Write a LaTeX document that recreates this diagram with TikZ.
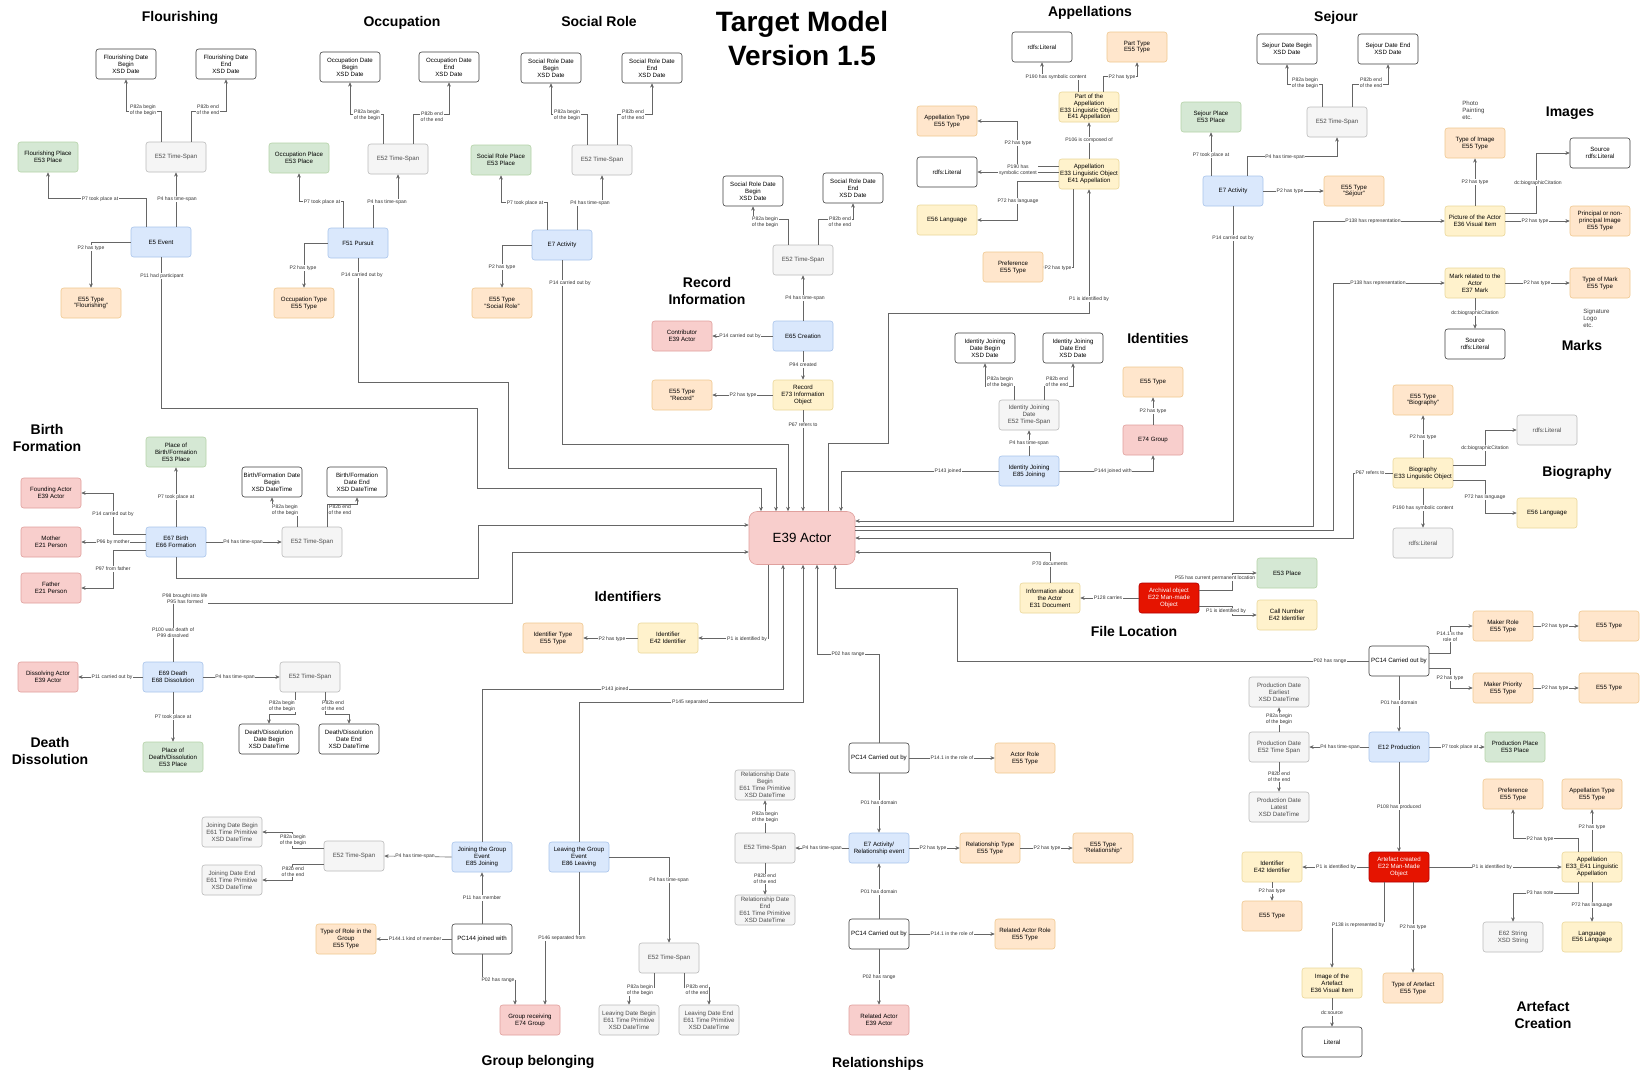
\documentclass[tikz,border=0pt]{standalone}
\usepackage{fontspec}
\setmainfont{Liberation Sans}
\usetikzlibrary{arrows.meta}
\definecolor{bluF}{HTML}{DAE8FC}\definecolor{bluD}{HTML}{A9C4EB}
\definecolor{grnF}{HTML}{D5E8D4}\definecolor{grnD}{HTML}{B5D3A8}
\definecolor{orgF}{HTML}{FFE6CC}\definecolor{orgD}{HTML}{F0C890}
\definecolor{yelF}{HTML}{FFF2CC}\definecolor{yelD}{HTML}{EBD89A}
\definecolor{pnkF}{HTML}{F8CECC}\definecolor{pnkD}{HTML}{E0A09D}
\definecolor{gryF}{HTML}{F5F5F5}\definecolor{gryD}{HTML}{BBBBBB}
\definecolor{redF}{HTML}{E51400}\definecolor{redD}{HTML}{B20000}
\newcommand{\mylab}[3]{\node[lab] (#1) at (#2) {#3};}
\begin{document}
\begin{tikzpicture}[x=0.75pt,y=-0.75pt,
 box/.style={rounded corners=2pt, minimum width=45pt, minimum height=22.5pt, inner sep=0.8pt, align=center, font=\fontsize{4.6}{5.2}\selectfont, line width=0.45pt},
 wht/.style={box, draw=black!75, fill=white},
 gry/.style={box, draw=gryD, fill=gryF, text=black!70},
 blu/.style={box, draw=bluD, fill=bluF},
 grn/.style={box, draw=grnD, fill=grnF},
 org/.style={box, draw=orgD, fill=orgF},
 yel/.style={box, draw=yelD, fill=yelF},
 pnk/.style={box, draw=pnkD, fill=pnkF},
 rbox/.style={box, draw=redD, fill=redF, text=white},
 note/.style={font=\fontsize{4.6}{5.2}\selectfont, align=left, inner sep=0pt, text=black!75},
 lab/.style={font=\fontsize{3.8}{4.3}\selectfont, fill=white, inner sep=0.5pt, align=center, text=black!80},
 ttl/.style={font=\fontsize{10.5}{12.5}\selectfont\bfseries, align=center},
 ed/.style={draw=black!60, line width=0.5pt, -{Stealth[length=3.2pt,width=2.8pt]}}
]
\useasboundingbox (0,0) rectangle (1640,1072);
\fill[white] (0,0) rectangle (1640,1072);

% ---------- titles
\node[ttl] (t1) at (180,18) {Flourishing};
\node[ttl] (t2) at (402,23) {Occupation};
\node[ttl] (t3) at (599,21) {Social Role};
\node[ttl, font=\fontsize{21}{25.5}\selectfont\bfseries] (t4) at (802,38) {Target Model\\Version 1.5};
\node[ttl] (t5) at (1090,13) {Appellations};
\node[ttl] (t6) at (1336,18) {Sejour};
\node[ttl] (t7) at (1570,113) {Images};
\node[ttl] (t8) at (1582,345) {Marks};
\node[ttl] (t9) at (707,291) {Record\\Information};
\node[ttl] (t10) at (1158,338) {Identities};
\node[ttl] (t11) at (1577,473) {Biography};
\node[ttl] (t12) at (47,438) {Birth\\Formation};
\node[ttl] (t13) at (628,596) {Identifiers};
\node[ttl] (t14) at (1134,631) {File Location};
\node[ttl] (t15) at (50,751) {Death\\Dissolution};
\node[ttl] (t16) at (538,1062) {Group belonging};
\node[ttl] (t17) at (878,1064) {Relationships};
\node[ttl] (t18) at (1543,1015) {Artefact\\Creation};

% ---------- Flourishing
\node[wht] (fdb) at (126,64) {Flourishing Date\\Begin\\XSD Date};
\node[wht] (fde) at (226,64) {Flourishing Date\\End\\XSD Date};
\node[gry] (fts) at (176,157) {E52 Time-Span};
\node[grn] (fpl) at (48,157) {Flourishing Place\\E53 Place};
\node[blu] (fev) at (161,242) {E5 Event};
\node[org] (fty) at (91,303) {E55 Type\\"Flourishing"};
% ---------- Occupation
\node[wht] (odb) at (350,67) {Occupation Date\\Begin\\XSD Date};
\node[wht] (ode) at (449,67) {Occupation Date\\End\\XSD Date};
\node[gry] (ots) at (398,159) {E52 Time-Span};
\node[grn] (opl) at (299,158) {Occupation Place\\E53 Place};
\node[blu] (opu) at (358,243) {F51 Pursuit};
\node[org] (oty) at (304,303) {Occupation Type\\E55 Type};
% ---------- Social role
\node[wht] (sdb) at (551,68) {Social Role Date\\Begin\\XSD Date};
\node[wht] (sde) at (652,68) {Social Role Date\\End\\XSD Date};
\node[gry] (sts) at (602,160) {E52 Time-Span};
\node[grn] (spl) at (501,160) {Social Role Place\\E53 Place};
\node[blu] (sac) at (562,245) {E7 Activity};
\node[org] (sty) at (502,303) {E55 Type\\"Social Role"};
% ---------- Record
\node[wht] (rdb) at (753,191) {Social Role Date\\Begin\\XSD Date};
\node[wht] (rde) at (853,188) {Social Role Date\\End\\XSD Date};
\node[gry] (rts) at (803,260) {E52 Time-Span};
\node[blu] (rcr) at (803,336) {E65 Creation};
\node[pnk] (rco) at (682,336) {Contributor\\E39 Actor};
\node[yel] (rrec) at (803,395) {Record\\E73 Information\\Object};
\node[org] (rty) at (682,395) {E55 Type\\"Record"};
% ---------- Actor
\node[pnk, minimum width=79.5pt, minimum height=39.75pt, rounded corners=6pt, font=\fontsize{10}{12}\selectfont] (act) at (802,538) {E39 Actor};
% ---------- Appellations
\node[wht] (alit) at (1042,47) {rdfs:Literal};
\node[org] (apt) at (1137,47) {Part Type\\E55 Type};
\node[yel] (apart) at (1089,107) {Part of the\\Appellation\\E33 Linguistic Object\\E41 Appellation};
\node[org] (aty) at (947,121) {Appellation Type\\E55 Type};
\node[yel] (aapp) at (1089,174) {Appellation\\E33 Linguistic Object\\E41 Appellation};
\node[wht] (alit2) at (947,172) {rdfs:Literal};
\node[yel] (alang) at (947,220) {E56 Language};
\node[org] (apref) at (1013,267) {Preference\\E55 Type};
% ---------- Identities
\node[wht] (idb) at (985,348) {Identity Joining\\Date Begin\\XSD Date};
\node[wht] (ide) at (1073,348) {Identity Joining\\Date End\\XSD Date};
\node[gry] (its) at (1029,415) {Identity Joining\\Date\\E52 Time-Span};
\node[blu] (ijo) at (1029,471) {Identity Joining\\E85 Joining};
\node[org] (ity) at (1153,382) {E55 Type};
\node[pnk] (igr) at (1153,440) {E74 Group};
% ---------- Sejour
\node[wht] (jdb) at (1287,49) {Sejour Date Begin\\XSD Date};
\node[wht] (jde) at (1388,49) {Sejour Date End\\XSD Date};
\node[gry] (jts) at (1337,122) {E52 Time-Span};
\node[grn] (jpl) at (1211,117) {Sejour Place\\E53 Place};
\node[blu] (jac) at (1233,191) {E7 Activity};
\node[org] (jty) at (1354,191) {E55 Type\\"Séjour"};
% ---------- Images
\node[note, anchor=west] (iph) at (1462,110) {Photo\\Painting\\etc.};
\node[org] (ity2) at (1475,143) {Type of Image\\E55 Type};
\node[yel] (ipic) at (1475,221) {Picture of the Actor\\E36 Visual Item};
\node[wht] (isrc) at (1600,153) {Source\\rdfs:Literal};
\node[org] (ipri) at (1600,221) {Principal or non-\\principal Image\\E55 Type};
% ---------- Marks
\node[yel] (mmk) at (1475,283) {Mark related to the\\Actor\\E37 Mark};
\node[org] (mty) at (1600,283) {Type of Mark\\E55 Type};
\node[note, anchor=west] (msig) at (1583,318) {Signature\\Logo\\etc.};
\node[wht] (msrc) at (1475,344) {Source\\rdfs:Literal};
% ---------- Biography
\node[org] (bty) at (1423,400) {E55 Type\\"Biography"};
\node[yel] (bbio) at (1423,473) {Biography\\E33 Linguistic Object};
\node[gry] (blit) at (1547,430) {rdfs:Literal};
\node[yel] (blang) at (1547,513) {E56 Language};
\node[gry] (blit2) at (1423,543) {rdfs:Literal};
% ---------- Birth
\node[grn] (npl) at (176,452) {Place of\\Birth/Formation\\E53 Place};
\node[pnk] (nfa) at (51,493) {Founding Actor\\E39 Actor};
\node[pnk] (nmo) at (51,542) {Mother\\E21 Person};
\node[pnk] (nfat) at (51,588) {Father\\E21 Person};
\node[blu] (nbi) at (176,542) {E67 Birth\\E66 Formation};
\node[gry] (nts) at (312,542) {E52 Time-Span};
\node[wht] (ndb) at (272,482) {Birth/Formation Date\\Begin\\XSD DateTime};
\node[wht] (nde) at (357,482) {Birth/Formation\\Date End\\XSD DateTime};
% ---------- Death
\node[pnk] (dda) at (48,677) {Dissolving Actor\\E39 Actor};
\node[blu] (dde) at (173,677) {E69 Death\\E68 Dissolution};
\node[gry] (dts) at (310,677) {E52 Time-Span};
\node[grn] (dpl) at (173,757) {Place of\\Death/Dissolution\\E53 Place};
\node[wht] (ddb) at (269,739) {Death/Dissolution\\Date Begin\\XSD DateTime};
\node[wht] (ddn) at (349,739) {Death/Dissolution\\Date End\\XSD DateTime};
% ---------- Identifiers
\node[yel] (idf) at (668,638) {Identifier\\E42 Identifier};
\node[org] (idt) at (553,638) {Identifier Type\\E55 Type};
% ---------- Group belonging
\node[gry] (gjb) at (232,832) {Joining Date Begin\\E61 Time Primitive\\XSD DateTime};
\node[gry] (gje) at (232,880) {Joining Date End\\E61 Time Primitive\\XSD DateTime};
\node[gry] (gts) at (354,856) {E52 Time-Span};
\node[blu] (gjo) at (482,857) {Joining the Group\\Event\\E85 Joining};
\node[blu] (gle) at (579,857) {Leaving the Group\\Event\\E86 Leaving};
\node[wht] (gpc) at (482,939) {PC144 joined with};
\node[org] (grt) at (346,939) {Type of Role in the\\Group\\E55 Type};
\node[pnk] (grc) at (530,1020) {Group receiving\\E74 Group};
\node[gry] (gts2) at (669,958) {E52 Time-Span};
\node[gry] (glb) at (629,1020) {Leaving Date Begin\\E61 Time Primitive\\XSD DateTime};
\node[gry] (gln) at (709,1020) {Leaving Date End\\E61 Time Primitive\\XSD DateTime};
% ---------- Relationships
\node[wht] (rpc1) at (879,758) {PC14 Carried out by};
\node[org] (rar) at (1025,758) {Actor Role\\E55 Type};
\node[blu] (rac) at (879,848) {E7 Activity/\\Relationship event};
\node[gry] (rts2) at (765,848) {E52 Time-Span};
\node[gry] (rdb2) at (765,785) {Relationship Date\\Begin\\E61 Time Primitive\\XSD DateTime};
\node[gry] (rde2) at (765,910) {Relationship Date\\End\\E61 Time Primitive\\XSD DateTime};
\node[org] (rrt) at (990,848) {Relationship Type\\E55 Type};
\node[org] (rrt2) at (1103,848) {E55 Type\\"Relationship"};
\node[wht] (rpc2) at (879,934) {PC14 Carried out by};
\node[org] (rra) at (1025,934) {Related Actor Role\\E55 Type};
\node[pnk] (rrel) at (879,1020) {Related Actor\\E39 Actor};
% ---------- File location
\node[yel] (lin) at (1050,598) {Information about\\the Actor\\E31 Document};
\node[rbox] (lar) at (1169,598) {Archival object\\E22 Man-made\\Object};
\node[grn] (lpl) at (1287,573) {E53 Place};
\node[yel] (lcn) at (1287,615) {Call Number\\E42 Identifier};
% ---------- Artefact creation
\node[wht] (apc) at (1399,661) {PC14 Carried out by};
\node[org] (amr) at (1503,626) {Maker Role\\E55 Type};
\node[org] (amt) at (1609,626) {E55 Type};
\node[org] (amp) at (1503,688) {Maker Priority\\E55 Type};
\node[org] (amt2) at (1609,688) {E55 Type};
\node[gry] (ape) at (1279,692) {Production Date\\Earliest\\XSD DateTime};
\node[gry] (apd) at (1279,747) {Production Date\\E52 Time Span};
\node[gry] (apl) at (1279,807) {Production Date\\Latest\\XSD DateTime};
\node[blu] (apr) at (1399,747) {E12 Production};
\node[grn] (app) at (1515,747) {Production Place\\E53 Place};
\node[rbox] (aart) at (1399,867) {Artefact created\\E22 Man-Made\\Object};
\node[yel] (aid) at (1272,867) {Identifier\\E42 Identifier};
\node[org] (aidt) at (1272,916) {E55 Type};
\node[yel] (aap) at (1592,867) {Appellation\\E33\_E41 Linguistic\\Appellation};
\node[org] (apf) at (1513,794) {Preference\\E55 Type};
\node[org] (aat) at (1592,794) {Appellation Type\\E55 Type};
\node[gry] (astr) at (1513,937) {E62 String\\XSD String};
\node[yel] (alg) at (1592,937) {Language\\E56 Language};
\node[yel] (aimg) at (1332,983) {Image of the\\Artefact\\E36 Visual Item};
\node[org] (atyp) at (1413,988) {Type of Artefact\\E55 Type};
\node[wht] (alt) at (1332,1042) {Literal};

% ================= connectors
% Flourishing
\draw[ed] ([shift={(-15,0)}]fts.north) -- ++(0,-30) -| (fdb.south);
\draw[ed] ([shift={(15,0)}]fts.north) -- ++(0,-30) -| (fde.south);
\draw[ed] ([shift={(-15,0)}]fev.north) -- ++(0,-28) -| (fpl.south);
\draw[ed] ([shift={(15,0)}]fev.north) -- (fts.south);
\draw[ed] (fev.west) -| (fty.north);
\draw[ed] (fev.south) |- (477,408) |- (761,488) -- ([shift={(-41,0)}]act.north);
% Occupation
\draw[ed] ([shift={(-15,0)}]ots.north) -- ++(0,-29) -| (odb.south);
\draw[ed] ([shift={(15,0)}]ots.north) -- ++(0,-29) -| (ode.south);
\draw[ed] ([shift={(-15,0)}]opu.north) -- ++(0,-26) -| (opl.south);
\draw[ed] ([shift={(15,0)}]opu.north) -- ++(0,-26) -| (ots.south);
\draw[ed] (opu.west) -| (oty.north);
\draw[ed] (opu.south) |- (508,382) |- (776,468) -- ([shift={(-26,0)}]act.north);
% Social role
\draw[ed] ([shift={(-15,0)}]sts.north) -- ++(0,-30) -| (sdb.south);
\draw[ed] ([shift={(15,0)}]sts.north) -- ++(0,-30) -| (sde.south);
\draw[ed] ([shift={(-15,0)}]sac.north) -- ++(0,-27) -| (spl.south);
\draw[ed] ([shift={(15,0)}]sac.north) -- ++(0,-27) -| (sts.south);
\draw[ed] (sac.west) -| (sty.north);
\draw[ed] (sac.south) |- (788,444) -- ([shift={(-14,0)}]act.north);
% Record
\draw[ed] ([shift={(-15,0)}]rts.north) -- ++(0,-25) -| (rdb.south);
\draw[ed] ([shift={(15,0)}]rts.north) -- ++(0,-25) -| (rde.south);
\draw[ed] (rcr.north) -- (rts.south);
\draw[ed] (rcr.west) -- (rco.east);
\draw[ed] (rcr.south) -- (rrec.north);
\draw[ed] (rrec.west) -- (rty.east);
\draw[ed] (rrec.south) -- ([shift={(1,0)}]act.north);
% Appellations
\draw[ed] ([shift={(-11,0)}]apart.north) -- ++(0,-15) -| (alit.south);
\draw[ed] ([shift={(14,0)}]apart.north) -- ++(0,-15) -| (apt.south);
\draw[ed] (aapp.north) -- (apart.south);
\draw[ed] ([shift={(0,-8)}]aapp.west) -- ++(-41,0) |- (aty.east);
\draw[ed] ([shift={(0,-2)}]aapp.west) -- (alit2.east);
\draw[ed] ([shift={(0,7)}]aapp.west) -- ++(-41,0) |- (alang.east);
\draw[ed] ([shift={(-16,0)}]aapp.south) |- (apref.east);
\draw[ed] ([shift={(26,0)}]act.north) |- (888,443) |- (1089,313) -- (aapp.south);
% Identities
\draw[ed] ([shift={(-15,0)}]its.north) -- ++(0,-13) -| (idb.south);
\draw[ed] ([shift={(15,0)}]its.north) -- ++(0,-13) -| (ide.south);
\draw[ed] (ijo.north) -- (its.south);
\draw[ed] (ijo.west) -| ([shift={(39,0)}]act.north);
\draw[ed] (ijo.east) -| (igr.south);
\draw[ed] (igr.north) -- (ity.south);
% Sejour
\draw[ed] ([shift={(-15,0)}]jts.north) -- ++(0,-22) -| (jdb.south);
\draw[ed] ([shift={(15,0)}]jts.north) -- ++(0,-22) -| (jde.south);
\draw[ed] ([shift={(-22,0)}]jac.north) -- (jpl.south);
\draw[ed] ([shift={(14,0)}]jac.north) -- ++(0,-19) -| (jts.south);
\draw[ed] (jac.east) -- (jty.west);
\draw[ed] (jac.south) |- ([shift={(0,-17)}]act.east);
% Images
\draw[ed] (ipic.north) -- (ity2.south);
\draw[ed] ([shift={(0,-8)}]ipic.east) -- ++(31,0) |- (isrc.west);
\draw[ed] (ipic.east) -- (ipri.west);
\draw[ed] ([shift={(0,-12)}]act.east) -| (1313,300) |- (ipic.west);
% Marks
\draw[ed] (mmk.east) -- (mty.west);
\draw[ed] (mmk.south) -- (msrc.north);
\draw[ed] ([shift={(0,-8)}]act.east) -| (1333,400) |- (mmk.west);
% Biography
\draw[ed] (bbio.north) -- (bty.south);
\draw[ed] ([shift={(0,-8)}]bbio.east) -- ++(32,0) |- (blit.west);
\draw[ed] ([shift={(0,7)}]bbio.east) -- ++(32,0) |- (blang.west);
\draw[ed] (bbio.south) -- (blit2.north);
\draw[ed] (bbio.west) -| (1353,500) |- (act.east);
% Birth
\draw[ed] (nbi.north) -- (npl.south);
\draw[ed] ([shift={(0,-8)}]nbi.west) -- ++(-32,0) |- (nfa.east);
\draw[ed] (nbi.west) -- (nmo.east);
\draw[ed] ([shift={(0,8)}]nbi.west) -- ++(-32,0) |- (nfat.east);
\draw[ed] (nbi.east) -- (nts.west);
\draw[ed] ([shift={(-15,0)}]nts.north) -- ++(0,-22) -| (ndb.south);
\draw[ed] ([shift={(15,0)}]nts.north) -- ++(0,-22) -| (nde.south);
\draw[ed] (nbi.south) |- (478,578) |- ([shift={(0,-13)}]act.west);
% Death
\draw[ed] (dde.west) -- (dda.east);
\draw[ed] (dde.east) -- (dts.west);
\draw[ed] (dde.south) -- (dpl.north);
\draw[ed] ([shift={(-15,0)}]dts.south) -- ++(0,22) -| (ddb.north);
\draw[ed] ([shift={(15,0)}]dts.south) -- ++(0,22) -| (ddn.north);
\draw[ed] (dde.north) |- (512,603) |- ([shift={(0,14)}]act.west);
% Identifiers
\draw[ed] ([shift={(-34,0)}]act.south) |- (idf.east);
\draw[ed] (idf.west) -- (idt.east);
% Group belonging
\draw[ed] (gjo.west) -- (gts.east);
\draw[ed] ([shift={(0,-8)}]gts.west) -- ++(-31,0) |- (gjb.east);
\draw[ed] ([shift={(0,8)}]gts.west) -- ++(-31,0) |- (gje.east);
\draw[ed] (gjo.north) |- (783,689) -- ([shift={(-19,0)}]act.south);
\draw[ed] (gle.north) |- (803,702) -- ([shift={(1,0)}]act.south);
\draw[ed] (gpc.north) -- (gjo.south);
\draw[ed] (gpc.west) -- (grt.east);
\draw[ed] (gpc.south) -- ++(0,26) -| ([shift={(-15,0)}]grc.north);
\draw[ed] (gle.south) -- ++(0,66) -| ([shift={(15,0)}]grc.north);
\draw[ed] (gle.east) -| (gts2.north);
\draw[ed] ([shift={(-15,0)}]gts2.south) -- ++(0,14) -| (glb.north);
\draw[ed] ([shift={(15,0)}]gts2.south) -- ++(0,14) -| (gln.north);
% Relationships
\draw[ed] (rpc1.north) |- (817,654) -- ([shift={(15,0)}]act.south);
\draw[ed] (rpc1.east) -- (rar.west);
\draw[ed] (rpc1.south) -- (rac.north);
\draw[ed] (rac.west) -- (rts2.east);
\draw[ed] (rts2.north) -- (rdb2.south);
\draw[ed] (rts2.south) -- (rde2.north);
\draw[ed] (rac.east) -- (rrt.west);
\draw[ed] (rrt.east) -- (rrt2.west);
\draw[ed] (rpc2.north) -- (rac.south);
\draw[ed] (rpc2.east) -- (rra.west);
\draw[ed] (rpc2.south) -- (rrel.north);
% File location
\draw[ed] (lar.west) -- (lin.east);
\draw[ed] (lin.north) |- ([shift={(0,14)}]act.east);
\draw[ed] ([shift={(0,-8)}]lar.east) -- ++(33,0) |- (lpl.west);
\draw[ed] ([shift={(0,8)}]lar.east) -- ++(33,0) |- (lcn.west);
\draw[ed] (apc.west) -| (957,588) -| ([shift={(33,0)}]act.south);
% Artefact creation
\draw[ed] ([shift={(0,-8)}]apc.east) -- ++(21,0) |- (amr.west);
\draw[ed] ([shift={(0,7)}]apc.east) -- ++(21,0) |- (amp.west);
\draw[ed] (amr.east) -- (amt.west);
\draw[ed] (amp.east) -- (amt2.west);
\draw[ed] (apc.south) -- (apr.north);
\draw[ed] (apr.west) -- (apd.east);
\draw[ed] (apd.north) -- (ape.south);
\draw[ed] (apd.south) -- (apl.north);
\draw[ed] (apr.east) -- (app.west);
\draw[ed] (apr.south) -- (aart.north);
\draw[ed] (aart.west) -- (aid.east);
\draw[ed] (aid.south) -- (aidt.north);
\draw[ed] (aart.east) -- (aap.west);
\draw[ed] ([shift={(-14,0)}]aap.north) -- ++(0,-13) -| (apf.south);
\draw[ed] (aap.north) -- (aat.south);
\draw[ed] ([shift={(-14,0)}]aap.south) -- ++(0,11) -| (astr.north);
\draw[ed] (aap.south) -- (alg.north);
\draw[ed] ([shift={(-15,0)}]aart.south) -- ++(0,43) -| (aimg.north);
\draw[ed] ([shift={(14,0)}]aart.south) -- (atyp.north);
\draw[ed] (aimg.south) -- (alt.north);

% ================= labels
\mylab{l1}{143,110}{P82a begin\\of the begin}
\mylab{l2}{208,110}{P82b end\\of the end}
\mylab{l3}{100,199}{P7 took place at}
\mylab{l4}{177,199}{P4 has time-span}
\mylab{l5}{91,248}{P2 has type}
\mylab{l6}{162,276}{P11 had participant}
\mylab{l7}{367,115}{P82a begin\\of the begin}
\mylab{l8}{432,117}{P82b end\\of the end}
\mylab{l9}{322,202}{P7 took place at}
\mylab{l10}{387,202}{P4 has time-span}
\mylab{l11}{303,268}{P2 has type}
\mylab{l12}{362,275}{P14 carried out by}
\mylab{l13}{567,115}{P82a begin\\of the begin}
\mylab{l14}{633,115}{P82b end\\of the end}
\mylab{l15}{525,203}{P7 took place at}
\mylab{l16}{590,203}{P4 has time-span}
\mylab{l17}{502,267}{P2 has type}
\mylab{l18}{570,283}{P14 carried out by}
\mylab{l19}{765,222}{P82a begin\\of the begin}
\mylab{l20}{840,222}{P82b end\\of the end}
\mylab{l21}{805,298}{P4 has time-span}
\mylab{l22}{740,336}{P14 carried out by}
\mylab{l23}{803,365}{P94 created}
\mylab{l24}{743,395}{P2 has type}
\mylab{l25}{803,425}{P67 refers to}
\mylab{l26}{1056,77}{P190 has symbolic content}
\mylab{l27}{1122,77}{P2 has type}
\mylab{l28}{1089,140}{P106 is composed of}
\mylab{l29}{1018,143}{P2 has type}
\mylab{l30}{1018,170}{P190 has\\symbolic content}
\mylab{l31}{1018,201}{P72 has language}
\mylab{l32}{1058,268}{P2 has type}
\mylab{l33}{1089,299}{P1 is identified by}
\mylab{l34}{1000,382}{P82a begin\\of the begin}
\mylab{l35}{1057,382}{P82b end\\of the end}
\mylab{l36}{1029,443}{P4 has time-span}
\mylab{l37}{948,471}{P143 joined}
\mylab{l38}{1113,471}{P144 joined with}
\mylab{l39}{1153,411}{P2 has type}
\mylab{l40}{1305,83}{P82a begin\\of the begin}
\mylab{l41}{1371,83}{P82b end\\of the end}
\mylab{l42}{1211,155}{P7 took place at}
\mylab{l43}{1285,157}{P4 has time-span}
\mylab{l44}{1290,191}{P2 has type}
\mylab{l45}{1233,238}{P14 carried out by}
\mylab{l46}{1475,182}{P2 has type}
\mylab{l47}{1538,183}{dc:biographicCitation}
\mylab{l48}{1535,221}{P2 has type}
\mylab{l49}{1373,221}{P138 has representation}
\mylab{l50}{1537,283}{P2 has type}
\mylab{l51}{1475,313}{dc:biographicCitation}
\mylab{l52}{1378,283}{P138 has representation}
\mylab{l53}{1423,437}{P2 has type}
\mylab{l54}{1485,448}{dc:biographicCitation}
\mylab{l55}{1485,497}{P72 has language}
\mylab{l56}{1423,508}{P190 has symbolic content}
\mylab{l57}{1370,473}{P67 refers to}
\mylab{l58}{176,497}{P7 took place at}
\mylab{l59}{113,514}{P14 carried out by}
\mylab{l60}{113,542}{P96 by mother}
\mylab{l61}{113,569}{P97 from father}
\mylab{l62}{243,542}{P4 has time-span}
\mylab{l63}{285,510}{P82a begin\\of the begin}
\mylab{l64}{340,510}{P82b end\\of the end}
\mylab{l65}{185,599}{P98 brought into life\\P95 has formed}
\mylab{l66}{173,633}{P100 was death of\\P99 dissolved}
\mylab{l67}{112,677}{P11 carried out by}
\mylab{l68}{235,677}{P4 has time-span}
\mylab{l69}{173,717}{P7 took place at}
\mylab{l70}{282,706}{P82a begin\\of the begin}
\mylab{l71}{333,706}{P82b end\\of the end}
\mylab{l72}{747,639}{P1 is identified by}
\mylab{l73}{612,639}{P2 has type}
\mylab{l74}{415,856}{P4 has time-span}
\mylab{l75}{293,840}{P82a begin\\of the begin}
\mylab{l76}{293,872}{P82b end\\of the end}
\mylab{l77}{615,689}{P143 joined}
\mylab{l78}{690,702}{P145 separated}
\mylab{l79}{482,898}{P11 has member}
\mylab{l80}{415,939}{P144.1 kind of member}
\mylab{l81}{498,980}{P02 has range}
\mylab{l82}{562,938}{P146 separated from}
\mylab{l83}{669,880}{P4 has time-span}
\mylab{l84}{640,990}{P82a begin\\of the begin}
\mylab{l85}{697,990}{P82b end\\of the end}
\mylab{l86}{848,654}{P02 has range}
\mylab{l87}{952,758}{P14.1 in the role of}
\mylab{l88}{879,803}{P01 has domain}
\mylab{l89}{822,848}{P4 has time-span}
\mylab{l90}{765,817}{P82a begin\\of the begin}
\mylab{l91}{765,879}{P82b end\\of the end}
\mylab{l92}{933,848}{P2 has type}
\mylab{l93}{1047,848}{P2 has type}
\mylab{l94}{879,892}{P01 has domain}
\mylab{l95}{952,934}{P14.1 in the role of}
\mylab{l96}{879,977}{P02 has range}
\mylab{l97}{1050,564}{P70 documents}
\mylab{l98}{1108,598}{P128 carries}
\mylab{l99}{1215,578}{P55 has current permanent location}
\mylab{l100}{1226,611}{P1 is identified by}
\mylab{l101}{1330,661}{P02 has range}
\mylab{l102}{1450,637}{P14.1 is the\\role of}
\mylab{l103}{1450,678}{P2 has type}
\mylab{l104}{1555,626}{P2 has type}
\mylab{l105}{1555,688}{P2 has type}
\mylab{l106}{1399,703}{P01 has domain}
\mylab{l107}{1340,747}{P4 has time-span}
\mylab{l108}{1279,719}{P82a begin\\of the begin}
\mylab{l109}{1279,777}{P82b end\\of the end}
\mylab{l110}{1460,747}{P7 took place at}
\mylab{l111}{1399,807}{P108 has produced}
\mylab{l112}{1336,867}{P1 is identified by}
\mylab{l113}{1272,891}{P2 has type}
\mylab{l114}{1492,867}{P1 is identified by}
\mylab{l115}{1540,839}{P2 has type}
\mylab{l116}{1592,827}{P2 has type}
\mylab{l117}{1540,893}{P3 has note}
\mylab{l118}{1592,905}{P72 has language}
\mylab{l119}{1358,925}{P138 is represented by}
\mylab{l120}{1413,927}{P2 has type}
\mylab{l121}{1332,1013}{dc:source}
\end{tikzpicture}
\end{document}
